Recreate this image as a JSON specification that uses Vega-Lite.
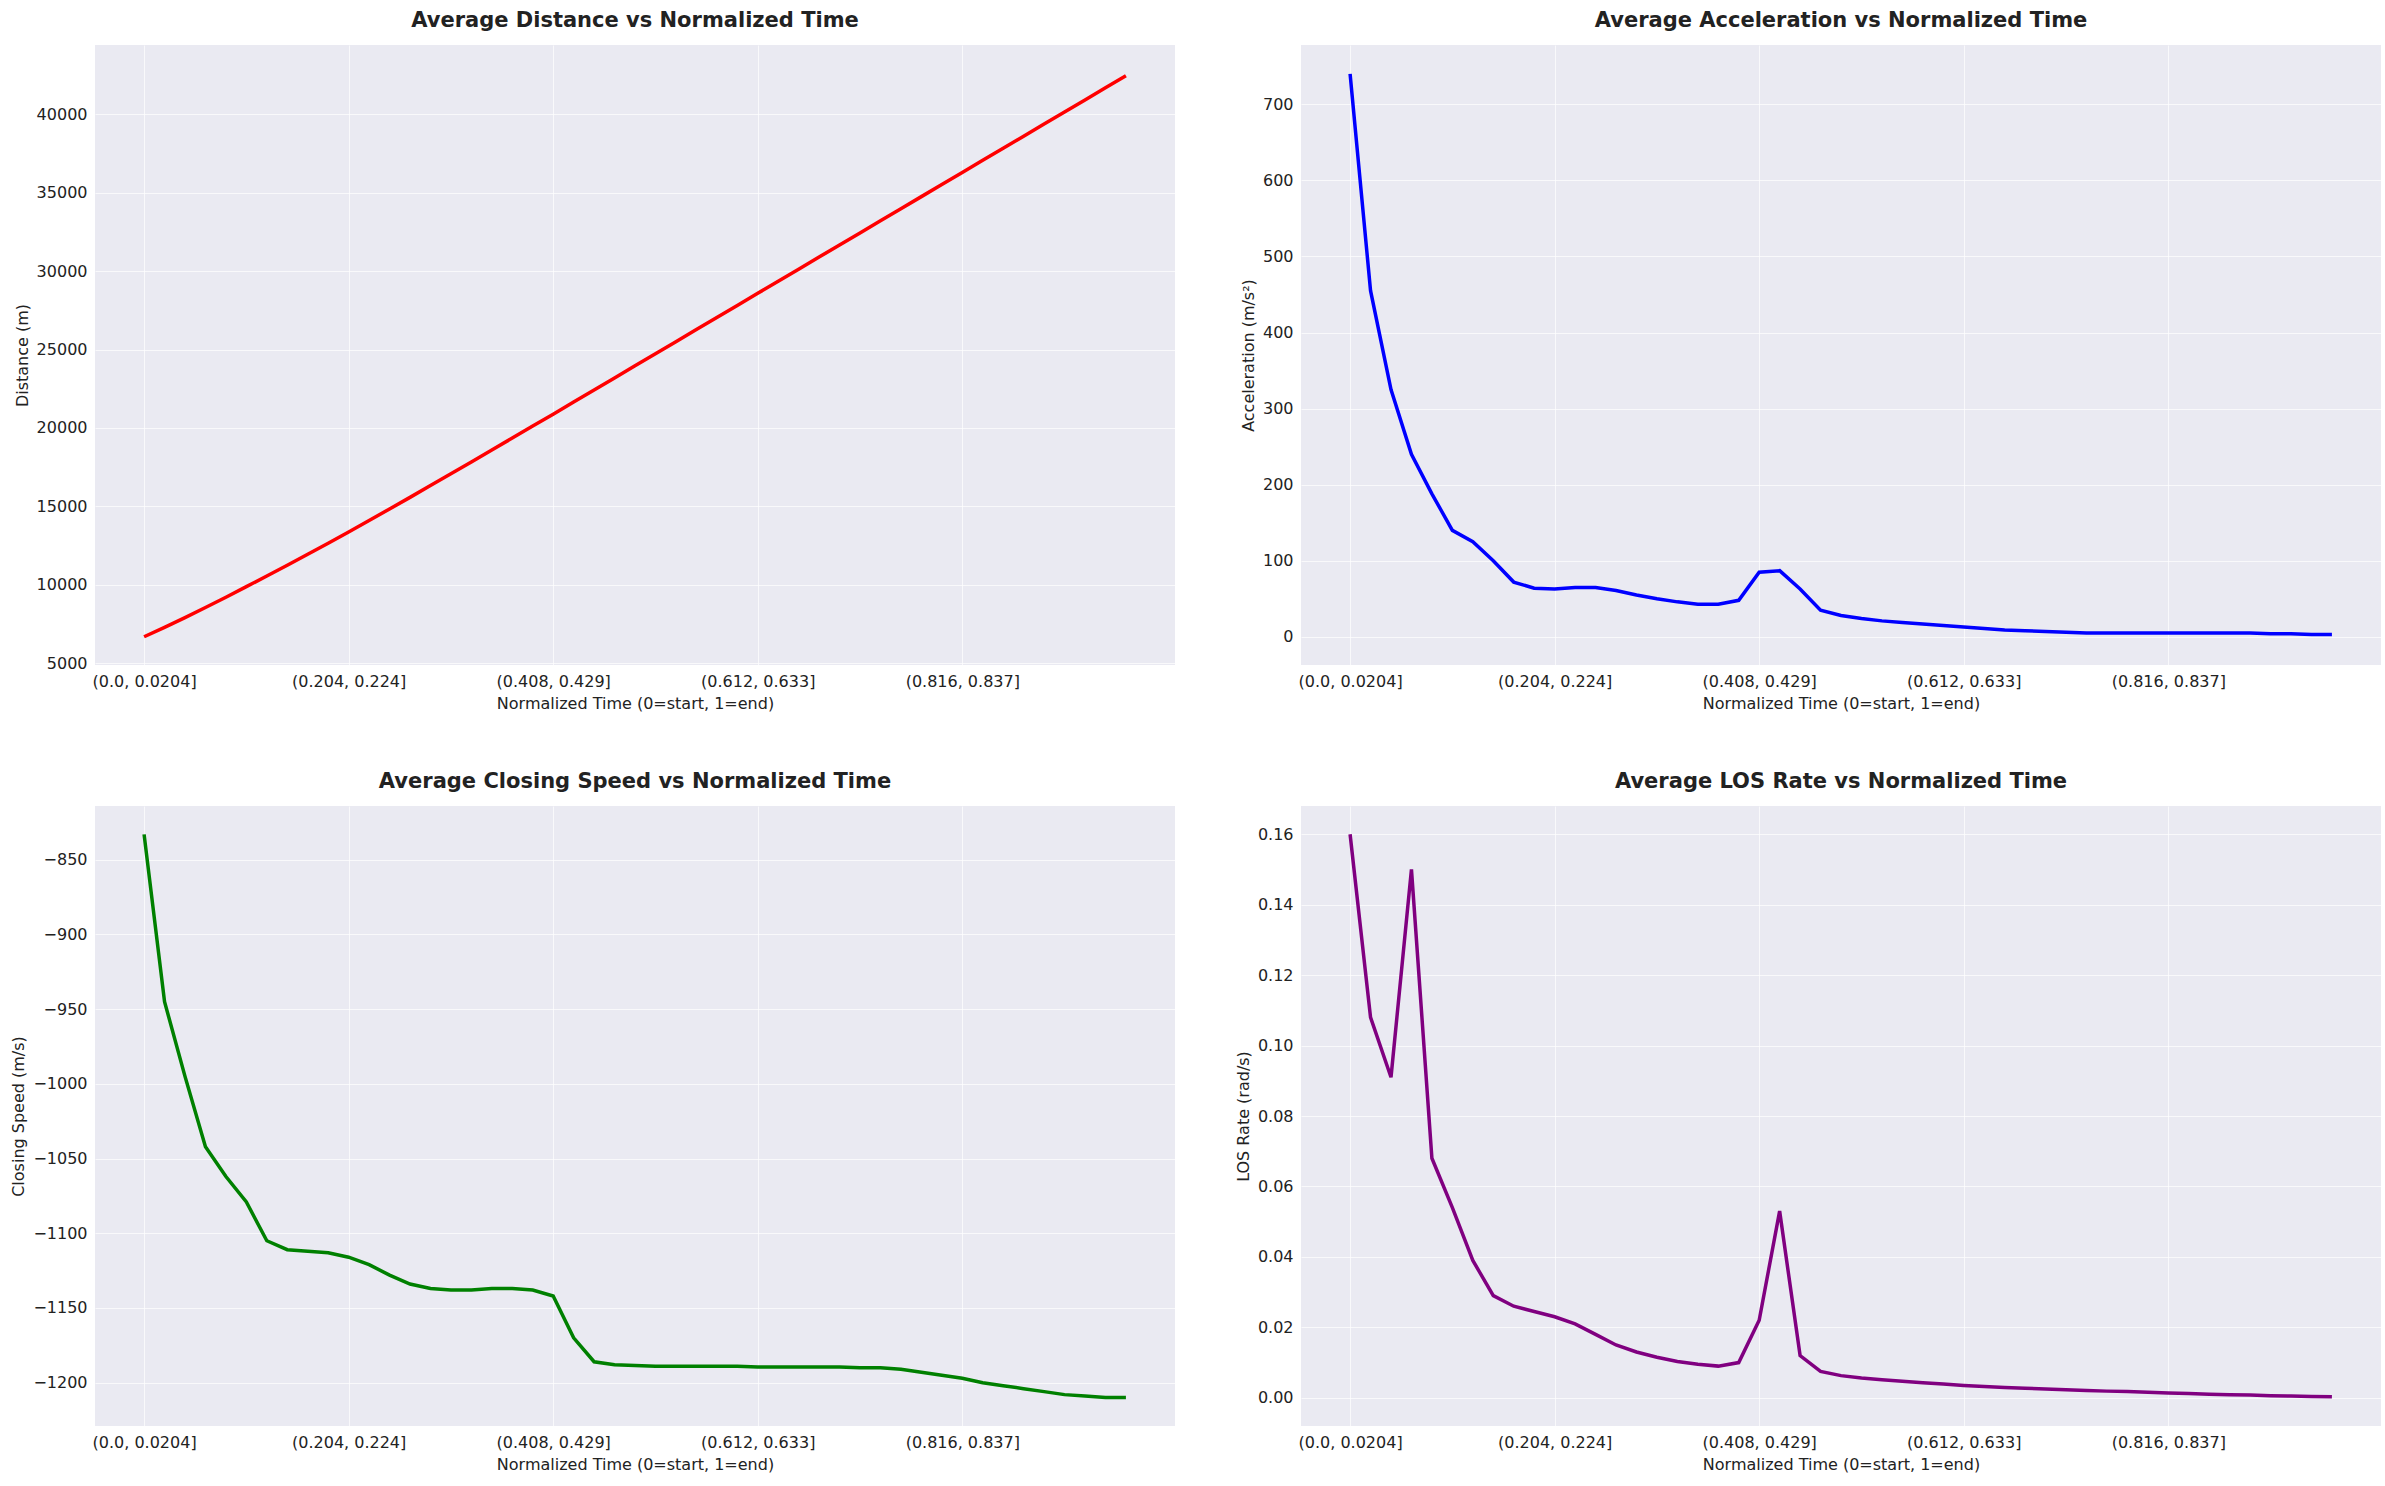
{
  "$schema": "https://vega.github.io/schema/vega-lite/v6.json",
  "background": "white",
  "padding": {"left": 10, "top": 10, "right": 20, "bottom": 10},
  "datasets": {
    "avg": [
      {"i":0,"dist":6700,"acc":740,"cs":-833,"los":0.160},
      {"i":1,"dist":7300,"acc":455,"cs":-945,"los":0.108},
      {"i":2,"dist":7920,"acc":325,"cs":-995,"los":0.091},
      {"i":3,"dist":8560,"acc":240,"cs":-1042,"los":0.150},
      {"i":4,"dist":9220,"acc":188,"cs":-1062,"los":0.068},
      {"i":5,"dist":9890,"acc":140,"cs":-1079,"los":0.054},
      {"i":6,"dist":10570,"acc":125,"cs":-1105,"los":0.039},
      {"i":7,"dist":11260,"acc":100,"cs":-1111,"los":0.029},
      {"i":8,"dist":11960,"acc":72,"cs":-1112,"los":0.026},
      {"i":9,"dist":12660,"acc":64,"cs":-1113,"los":0.0245},
      {"i":10,"dist":13370,"acc":63,"cs":-1116,"los":0.023},
      {"i":11,"dist":14100,"acc":65,"cs":-1121,"los":0.021},
      {"i":12,"dist":14840,"acc":65,"cs":-1128,"los":0.018},
      {"i":13,"dist":15580,"acc":61,"cs":-1134,"los":0.015},
      {"i":14,"dist":16330,"acc":55,"cs":-1137,"los":0.013},
      {"i":15,"dist":17080,"acc":50,"cs":-1138,"los":0.0115},
      {"i":16,"dist":17840,"acc":46,"cs":-1138,"los":0.0103},
      {"i":17,"dist":18600,"acc":43,"cs":-1137,"los":0.0095},
      {"i":18,"dist":19360,"acc":43,"cs":-1137,"los":0.009},
      {"i":19,"dist":20120,"acc":48,"cs":-1138,"los":0.010},
      {"i":20,"dist":20880,"acc":85,"cs":-1142,"los":0.022},
      {"i":21,"dist":21650,"acc":87,"cs":-1170,"los":0.053},
      {"i":22,"dist":22420,"acc":63,"cs":-1186,"los":0.012},
      {"i":23,"dist":23190,"acc":35,"cs":-1188,"los":0.0075},
      {"i":24,"dist":23960,"acc":28,"cs":-1188.5,"los":0.0063},
      {"i":25,"dist":24730,"acc":24,"cs":-1189,"los":0.0056},
      {"i":26,"dist":25500,"acc":21,"cs":-1189,"los":0.0051},
      {"i":27,"dist":26270,"acc":19,"cs":-1189,"los":0.0047},
      {"i":28,"dist":27040,"acc":17,"cs":-1189,"los":0.0043},
      {"i":29,"dist":27810,"acc":15,"cs":-1189,"los":0.0039},
      {"i":30,"dist":28580,"acc":13,"cs":-1189.5,"los":0.0035},
      {"i":31,"dist":29350,"acc":11,"cs":-1189.5,"los":0.0032},
      {"i":32,"dist":30120,"acc":9,"cs":-1189.5,"los":0.0029},
      {"i":33,"dist":30890,"acc":8,"cs":-1189.5,"los":0.0027},
      {"i":34,"dist":31660,"acc":7,"cs":-1189.5,"los":0.0025},
      {"i":35,"dist":32430,"acc":6,"cs":-1190,"los":0.0023},
      {"i":36,"dist":33200,"acc":5,"cs":-1190,"los":0.0021},
      {"i":37,"dist":33970,"acc":5,"cs":-1191,"los":0.0019},
      {"i":38,"dist":34740,"acc":5,"cs":-1193,"los":0.0018},
      {"i":39,"dist":35510,"acc":5,"cs":-1195,"los":0.0016},
      {"i":40,"dist":36280,"acc":5,"cs":-1197,"los":0.0014},
      {"i":41,"dist":37050,"acc":5,"cs":-1200,"los":0.0012},
      {"i":42,"dist":37820,"acc":5,"cs":-1202,"los":0.0010},
      {"i":43,"dist":38590,"acc":5,"cs":-1204,"los":0.0009},
      {"i":44,"dist":39360,"acc":5,"cs":-1206,"los":0.0008},
      {"i":45,"dist":40130,"acc":4,"cs":-1208,"los":0.0006},
      {"i":46,"dist":40900,"acc":4,"cs":-1209,"los":0.0005},
      {"i":47,"dist":41670,"acc":3,"cs":-1210,"los":0.0004},
      {"i":48,"dist":42440,"acc":3,"cs":-1210,"los":0.0003}
    ]
  },
  "data": {"name": "avg"},
  "columns": 2,
  "spacing": 60,
  "concat": [
    {
      "title": "Average Distance vs Normalized Time",
      "width": 1080, "height": 620,
      "mark": {"type": "line", "color": "red", "strokeWidth": 3.5},
      "encoding": {
        "x": {"field": "i", "type": "quantitative", "scale": {"domain": [-2.4, 50.4], "nice": false}, "axis": {"title": "Normalized Time (0=start, 1=end)", "values": [0,10,20,30,40], "labelExpr": "datum.value==0?'(0.0, 0.0204]':datum.value==10?'(0.204, 0.224]':datum.value==20?'(0.408, 0.429]':datum.value==30?'(0.612, 0.633]':'(0.816, 0.837]'"}},
        "y": {"field": "dist", "type": "quantitative", "scale": {"domain": [4900, 44400], "nice": false, "zero": false}, "axis": {"title": "Distance (m)", "values": [5000,10000,15000,20000,25000,30000,35000,40000], "format": "d"}}
      }
    },
    {
      "title": "Average Acceleration vs Normalized Time",
      "width": 1080, "height": 620,
      "mark": {"type": "line", "color": "blue", "strokeWidth": 3.5},
      "encoding": {
        "x": {"field": "i", "type": "quantitative", "scale": {"domain": [-2.4, 50.4], "nice": false}, "axis": {"title": "Normalized Time (0=start, 1=end)", "values": [0,10,20,30,40], "labelExpr": "datum.value==0?'(0.0, 0.0204]':datum.value==10?'(0.204, 0.224]':datum.value==20?'(0.408, 0.429]':datum.value==30?'(0.612, 0.633]':'(0.816, 0.837]'"}},
        "y": {"field": "acc", "type": "quantitative", "scale": {"domain": [-37, 778], "nice": false, "zero": false}, "axis": {"title": "Acceleration (m/s²)", "values": [0,100,200,300,400,500,600,700]}}
      }
    },
    {
      "title": "Average Closing Speed vs Normalized Time",
      "width": 1080, "height": 620,
      "mark": {"type": "line", "color": "green", "strokeWidth": 3.5},
      "encoding": {
        "x": {"field": "i", "type": "quantitative", "scale": {"domain": [-2.4, 50.4], "nice": false}, "axis": {"title": "Normalized Time (0=start, 1=end)", "values": [0,10,20,30,40], "labelExpr": "datum.value==0?'(0.0, 0.0204]':datum.value==10?'(0.204, 0.224]':datum.value==20?'(0.408, 0.429]':datum.value==30?'(0.612, 0.633]':'(0.816, 0.837]'"}},
        "y": {"field": "cs", "type": "quantitative", "scale": {"domain": [-1229, -814], "nice": false, "zero": false}, "axis": {"title": "Closing Speed (m/s)", "values": [-1200,-1150,-1100,-1050,-1000,-950,-900,-850], "labelExpr": "replace(format(datum.value,'d'),'-','−')"}}
      }
    },
    {
      "title": "Average LOS Rate vs Normalized Time",
      "width": 1080, "height": 620,
      "mark": {"type": "line", "color": "purple", "strokeWidth": 3.5},
      "encoding": {
        "x": {"field": "i", "type": "quantitative", "scale": {"domain": [-2.4, 50.4], "nice": false}, "axis": {"title": "Normalized Time (0=start, 1=end)", "values": [0,10,20,30,40], "labelExpr": "datum.value==0?'(0.0, 0.0204]':datum.value==10?'(0.204, 0.224]':datum.value==20?'(0.408, 0.429]':datum.value==30?'(0.612, 0.633]':'(0.816, 0.837]'"}},
        "y": {"field": "los", "type": "quantitative", "scale": {"domain": [-0.008, 0.168], "nice": false, "zero": false}, "axis": {"title": "LOS Rate (rad/s)", "values": [0,0.02,0.04,0.06,0.08,0.1,0.12,0.14,0.16], "format": ".2f"}}
      }
    }
  ],
  "config": {
    "font": "DejaVu Sans",
    "view": {"fill": "#EAEAF2", "stroke": null},
    "title": {"fontSize": 21, "fontWeight": "bold", "color": "#222", "offset": 14},
    "axis": {"domain": false, "ticks": false, "gridColor": "white", "gridWidth": 1, "gridOpacity": 0.7, "labelFontSize": 16, "labelColor": "#222", "titleFontSize": 16, "titleFontWeight": "normal", "titleColor": "#222", "labelPadding": 8, "titlePadding": 6}
  }
}
